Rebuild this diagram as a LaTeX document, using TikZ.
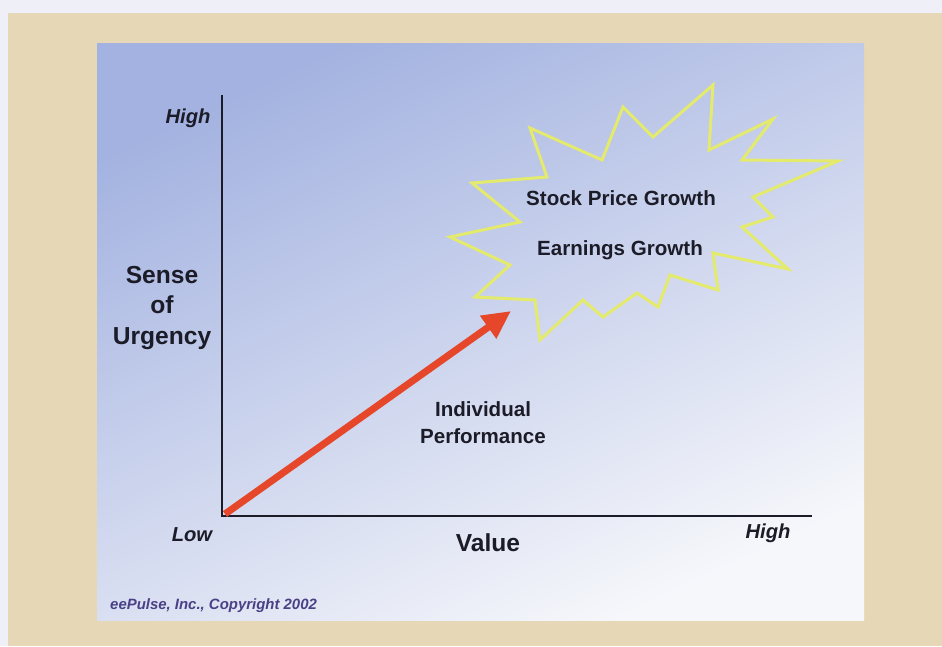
\documentclass[tikz,border=0pt]{standalone}
\usepackage{fontspec}
\setmainfont{Liberation Sans}
\usetikzlibrary{arrows.meta}
\definecolor{paper}{HTML}{EEEFF7}
\definecolor{frame}{HTML}{E6D7B7}
\definecolor{slidetop}{HTML}{A3B2E0}
\definecolor{slidemid}{HTML}{BAC5EB}
\definecolor{slidebot}{HTML}{F6F7FB}
\definecolor{ink}{HTML}{1C1C28}
\definecolor{starline}{HTML}{E4EA6C}
\definecolor{perfred}{HTML}{E6472B}
\definecolor{copyink}{HTML}{4A4086}
\tikzset{lbl/.style = {font=\bfseries\fontsize{14}{17.6}\selectfont, text=ink, align=center},
         ends/.style = {font=\bfseries\itshape\fontsize{11.5}{13}\selectfont, text=ink},
         note/.style = {font=\bfseries\fontsize{11.7}{15.3}\selectfont, text=ink, align=center},
         axis/.style = {draw=ink, line width=1.3pt},
         burst/.style = {draw=starline, line width=1.7pt, line join=miter},
         perf/.style = {draw=perfred, line width=4pt, -{Triangle[length=16pt,width=15pt]}}}

\begin{document}
\begin{tikzpicture}[x=0.02cm,y=-0.02cm]
    % page and slide
    \fill[paper](0,0)rectangle(942,646);
    \fill[frame](8,13)rectangle(942,646);
    \shade[top color=slidetop, middle color=slidemid, bottom color=slidebot, shading angle=25](97,43)rectangle(864,620);

    % axes
    \coordinate(o)at(222,516);
    \coordinate(ytop)at(222,95);
    \coordinate(xend)at(812,516);
    \draw[axis](ytop)--(o)--(xend);

    \node[ends](yhi)at(188,118){High};
    \node[ends](ylo)at(192,535){Low};
    \node[ends](xhi)at(768,533){High};
    \node[lbl](urg)at(162,308){Sense\\of\\Urgency};
    \node[lbl](val)at(488,543){Value};

    % the star
    \draw[burst](530,128)--(602,160)--(623,107)--(653,137)--(713,85)--(709,150)--(773,119)
        --(742,160)--(838,161)--(753,197)--(773,217)--(742,227)--(788,269)--(713,253)
        --(718,290)--(670,275)--(658,307)--(637,293)--(603,317)--(583,300)--(540,340)
        --(535,300)--(475,297)--(510,265)--(450,237)--(520,222)--(472,183)--(547,177)--cycle;
    \node[note](stock)at(621,198){Stock Price Growth};
    \node[note](earn)at(620,250){Earnings Growth};

    % performance arrow
    \coordinate(tip)at(511,311);
    \draw[perf]([shift={(3,-2)}]o)--(tip);
    \node[note](indiv)at(483,423){Individual\\Performance};

    \node[anchor=west, font=\bfseries\itshape\fontsize{8.5}{10}\selectfont, text=copyink](copy)at(104,606){eePulse, Inc., Copyright 2002};
\end{tikzpicture}
\end{document}
